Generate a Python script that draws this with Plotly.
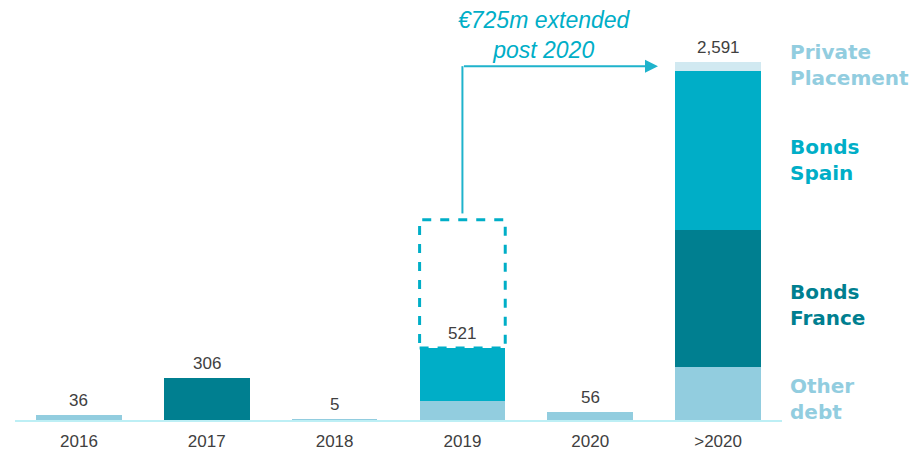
import plotly.graph_objects as go

# Debt maturity profile (€m)
years = ["2016", "2017", "2018", "2019", "2020", ">2020"]
other_debt = [36, 0, 5, 137, 56, 384]
bonds_france = [0, 306, 0, 0, 0, 992]
bonds_spain = [0, 0, 0, 384, 0, 1150]
private_placement = [0, 0, 0, 0, 0, 65]

totals = [a + b + c + d for a, b, c, d in zip(other_debt, bonds_france, bonds_spain, private_placement)]

C_OTHER = "#92CDDF"
C_FRANCE = "#007F90"
C_SPAIN = "#00AEC7"
C_PRIVATE = "#D1E9F1"
C_ARROW = "#1FB3CC"
TXT = "#404040"

fig = go.Figure()
for name, vals, col in [
    ("Other debt", other_debt, C_OTHER),
    ("Bonds France", bonds_france, C_FRANCE),
    ("Bonds Spain", bonds_spain, C_SPAIN),
    ("Private Placement", private_placement, C_PRIVATE),
]:
    fig.add_trace(go.Bar(x=years, y=vals, name=name, marker=dict(color=col, line=dict(width=0)),
                         width=0.67, hoverinfo="skip"))

annotations = []
# total labels above each bar (category index positions)
for i, t in enumerate(totals):
    annotations.append(dict(x=i, y=t, xref="x", yref="y", text=f"{t:,}", showarrow=False,
                            yanchor="bottom", yshift=3,
                            font=dict(family="Liberation Sans, Arial", size=17, color=TXT)))

# extension callout
annotations.append(dict(x=3.64, y=2790, text="<i>€725m extended<br>post 2020</i>", showarrow=False,
                        font=dict(family="Liberation Sans, Arial", size=23, color=C_SPAIN)))
annotations.append(dict(x=4.53, y=2561, ax=3, ay=2561, axref="x", ayref="y", xref="x", yref="y",
                        text="", showarrow=True, arrowhead=2, arrowsize=1.3, arrowwidth=2,
                        arrowcolor=C_ARROW, standoff=0))

# series labels on the right
side = [
    ("Private<br>Placement", 0.846, C_OTHER),
    ("Bonds<br>Spain", 0.619, C_SPAIN),
    ("Bonds<br>France", 0.274, C_FRANCE),
    ("Other<br>debt", 0.051, C_OTHER),
]
for txt, yp, col in side:
    annotations.append(dict(xref="paper", yref="paper", x=1.0075, y=yp, xanchor="left", yanchor="middle",
                            align="left", text=f"<b>{txt}</b>", showarrow=False,
                            font=dict(family="DejaVu Sans", size=20, color=col)))

shapes = [
    # dashed outline of the extended 2019 amount
    dict(type="rect", xref="x", yref="y", x0=2.665, x1=3.335, y0=totals[3], y1=1450,
         line=dict(color=C_SPAIN, width=3, dash="dash"), fillcolor="rgba(0,0,0,0)", layer="above"),
    # vertical leg of the callout arrow
    dict(type="line", xref="x", yref="y", x0=3, x1=3, y0=1495, y1=2561,
         line=dict(color=C_ARROW, width=2)),
]

fig.update_layout(
    barmode="stack",
    width=923, height=454,
    margin=dict(l=15, r=141, t=0, b=34),
    paper_bgcolor="white", plot_bgcolor="white",
    showlegend=False,
    annotations=annotations,
    shapes=shapes,
    xaxis=dict(type="category", showgrid=False, showline=True, linecolor="#BDEFF5", linewidth=2,
               ticks="", ticklen=0, ticklabelstandoff=5,
               tickfont=dict(family="Liberation Sans, Arial", size=17, color=TXT),
               range=[-0.5, 5.5], fixedrange=True),
    yaxis=dict(visible=False, range=[0, 3040], fixedrange=True),
)

fig.write_html("out.html")
